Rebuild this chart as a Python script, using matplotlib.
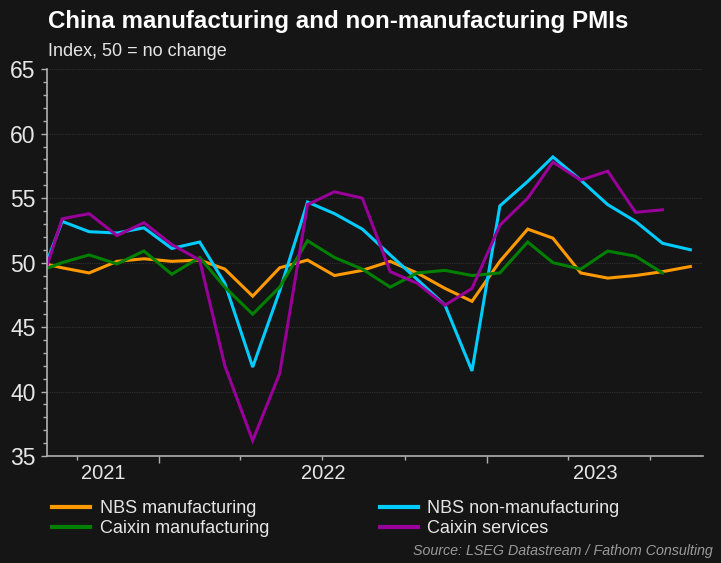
#!/usr/bin/env python3
import datetime as dt

import matplotlib
matplotlib.use('agg')
import matplotlib.pyplot as plt
import matplotlib.dates as mdates
from matplotlib.ticker import MultipleLocator

plt.rcParams['font.family'] = ['Liberation Sans', 'DejaVu Sans']

# monthly readings, Aug 2021 .. Aug 2023
start_year, start_month = 2021, 8
nbs_manuf = [50.1, 49.6, 49.2, 50.1, 50.3, 50.1, 50.2, 49.5, 47.4, 49.6, 50.2, 49.0,
             49.4, 50.1, 49.2, 48.0, 47.0, 50.1, 52.6, 51.9, 49.2, 48.8, 49.0, 49.3, 49.7]
nbs_nonmanuf = [47.5, 53.2, 52.4, 52.3, 52.7, 51.1, 51.6, 48.4, 41.9, 47.8, 54.7, 53.8,
                52.6, 50.6, 48.7, 46.7, 41.6, 54.4, 56.3, 58.2, 56.4, 54.5, 53.2, 51.5, 51.0]
caixin_manuf = [49.2, 50.0, 50.6, 49.9, 50.9, 49.1, 50.4, 48.1, 46.0, 48.1, 51.7, 50.4,
                49.5, 48.1, 49.2, 49.4, 49.0, 49.2, 51.6, 50.0, 49.5, 50.9, 50.5, 49.2]
caixin_serv = [46.7, 53.4, 53.8, 52.1, 53.1, 51.4, 50.2, 42.0, 36.2, 41.4, 54.5, 55.5,
               55.0, 49.3, 48.4, 46.7, 48.0, 52.9, 55.0, 57.8, 56.4, 57.1, 53.9, 54.1]

series_labels = ['NBS manufacturing', 'NBS non-manufacturing',
                 'Caixin manufacturing', 'Caixin services']
series_colors = ['#ff9900', '#00ccff', '#008000', '#990099']


def month_dates(n):
    out = []
    y, m = start_year, start_month
    for _ in range(n):
        out.append(dt.date(y, m, 15))
        m += 1
        if m > 12:
            m = 1
            y += 1
    return out


bg = '#151515'
fg = '#e6e6e6'
axcol = '#b0b0b0'

fig = plt.figure(figsize=(7.21, 5.63), dpi=100, facecolor=bg)
ax = fig.add_axes([0.065, 0.19, 0.91, 0.687], facecolor=bg)

for vals, lab, col in zip([nbs_manuf, nbs_nonmanuf, caixin_manuf, caixin_serv],
                          series_labels, series_colors):
    ax.plot(month_dates(len(vals)), vals, color=col, lw=2.2, label=lab,
            solid_joinstyle='miter')

x0 = mdates.date2num(dt.date(2021, 8, 29))
x1 = mdates.date2num(dt.date(2023, 8, 29))
ax.set_xlim(x0, x1)
ax.set_ylim(35, 65)

ax.yaxis.set_major_locator(MultipleLocator(5))
ax.yaxis.set_minor_locator(MultipleLocator(1))
ax.grid(axis='y', which='major', color='#303030', linestyle=(0, (1, 1)), lw=0.8)

ax.xaxis.set_major_locator(mdates.YearLocator())
ax.xaxis.set_minor_locator(mdates.MonthLocator(bymonth=[1, 4, 7, 10]))
ax.xaxis.set_major_formatter(plt.NullFormatter())
ax.tick_params(axis='x', which='major', length=5, width=1, color=axcol)
ax.tick_params(axis='x', which='minor', length=3, width=1, color=axcol)
ax.tick_params(axis='y', which='major', length=4, width=1, color=axcol,
               labelsize=16.5, labelcolor=fg, pad=4)
ax.tick_params(axis='y', which='minor', length=3, width=1, color=axcol)

for s in ['top', 'right']:
    ax.spines[s].set_visible(False)
for s in ['left', 'bottom']:
    ax.spines[s].set_color(axcol)
    ax.spines[s].set_linewidth(1.2)

# year labels centred on the visible part of each year
for yr in [2021, 2022, 2023]:
    a = max(x0, mdates.date2num(dt.date(yr, 1, 1)))
    b = min(x1, mdates.date2num(dt.date(yr + 1, 1, 1)))
    ax.text((a + b) / 2, -0.045, str(yr), transform=ax.get_xaxis_transform(),
            ha='center', va='center', fontsize=14.5, color=fg)

fig.text(0.067, 0.962, 'China manufacturing and non-manufacturing PMIs',
         fontsize=17.4, fontweight='bold', color='white', va='center')
fig.text(0.067, 0.908, 'Index, 50 = no change', fontsize=13, color=fg, va='center')

handles, labels = ax.get_legend_handles_labels()
order = [0, 2, 1, 3]
leg = fig.legend([handles[i] for i in order], [labels[i] for i in order],
                 loc='upper left', bbox_to_anchor=(0.0625, 0.125), ncol=2,
                 frameon=False, fontsize=13, handlelength=2.1, handletextpad=0.55,
                 columnspacing=6.1, labelspacing=0.2, borderaxespad=0)
for t in leg.get_texts():
    t.set_color(fg)
for h in leg.get_lines():
    h.set_linewidth(3)

fig.text(0.988, 0.021, 'Source: LSEG Datastream / Fathom Consulting', ha='right',
         va='center', fontsize=10.3, style='italic', color='#9a9a9a')

fig.savefig('out.png', dpi=100, facecolor=bg)
